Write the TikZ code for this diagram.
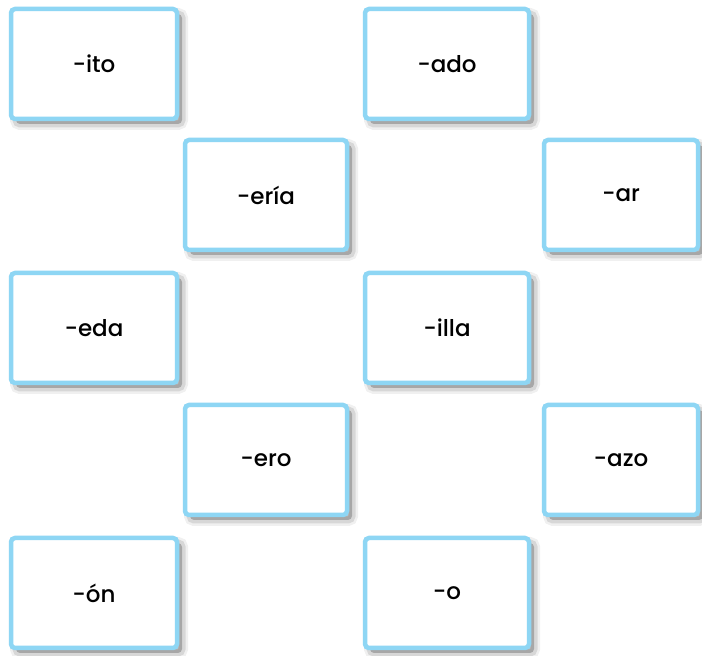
\documentclass[tikz,border=0pt]{standalone}
\usepackage{fontspec}
\setmainfont{Poppins}[UprightFont={* Medium}]
\usetikzlibrary{calc}
\definecolor{boxblue}{HTML}{8ED6F4}
\definecolor{boxinner}{HTML}{D6F2FD}
\tikzset{
  card/.style={draw=boxblue, line width=4.5pt, rounded corners=4pt, fill=white,
    minimum width=#1, minimum height=110pt, inner sep=0pt, font=\fontsize{23}{26}\selectfont,
    preaction={draw=black, draw opacity=0.06, line width=12pt, transform canvas={shift={(5pt,-5pt)}}},
    preaction={draw=black, draw opacity=0.10, line width=7pt, transform canvas={shift={(5pt,-5pt)}}},
    preaction={fill=black, fill opacity=0.22, transform canvas={shift={(5pt,-5pt)}}},
    append after command={\pgfextra{\let\mynode\tikzlastnode}
      ($(\mynode.south west)+(3.5pt,3.5pt)$) [draw=boxinner, line width=2.5pt, rounded corners=2pt] rectangle ($(\mynode.north east)+(-3.5pt,-3.5pt)$)}},
  card/.default=166pt
}
\begin{document}
\begin{tikzpicture}[x=1pt,y=1pt]
\useasboundingbox[fill=white] (0,0) rectangle (702,656);
\node[card=166pt] (ito)  at (94,592) {-ito};
\node[card=164pt] (ado)  at (447,592) {-ado};
\node[card=162pt] (eria) at (266,461) {-ería};
\node[card=154pt] (ar)   at (621,461) {-ar};
\node[card=166pt] (eda)  at (94,328) {-eda};
\node[card=164pt] (illa) at (447,328) {-illa};
\node[card=162pt] (ero)  at (266,196) {-ero};
\node[card=154pt] (azo)  at (621,196) {-azo};
\node[card=166pt] (on)   at (94,63) {-ón};
\node[card=164pt] (o)    at (447,63) {-o};
\end{tikzpicture}
\end{document}
